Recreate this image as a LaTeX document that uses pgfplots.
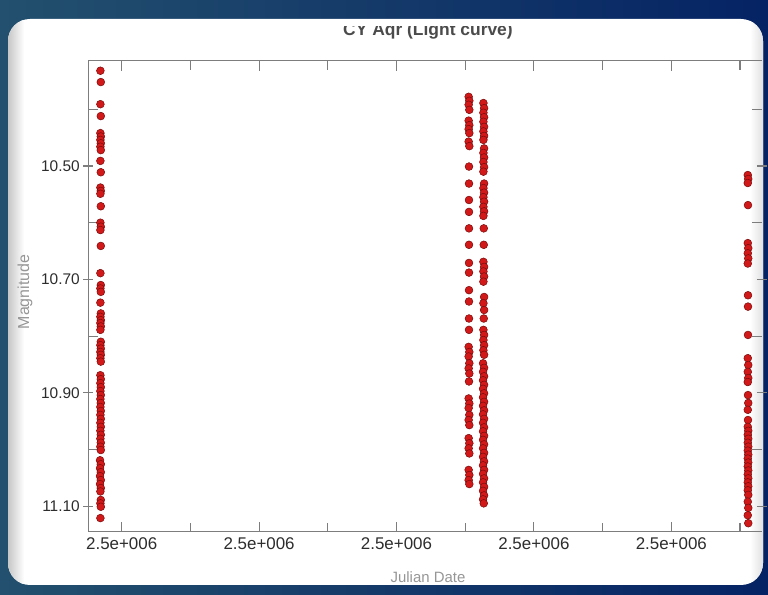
\documentclass[border=0pt]{standalone}
\usepackage{pgfplots}
\pgfplotsset{compat=1.18}
\usepackage{fontspec}
\setmainfont{Liberation Sans}
\definecolor{bgL}{RGB}{35,80,110}
\definecolor{bgR}{RGB}{5,35,100}
\definecolor{axgray}{RGB}{125,125,125}
\definecolor{lblgray}{RGB}{150,150,150}
\definecolor{tickgray}{RGB}{45,45,45}
\definecolor{titlegray}{RGB}{75,75,75}
\definecolor{dotfill}{RGB}{210,25,25}
\definecolor{dotdraw}{RGB}{120,10,10}
\begin{document}
\begin{tikzpicture}
\useasboundingbox (0,0) rectangle (768bp,595bp);
\shade[left color=bgL, right color=bgR] (0,0) rectangle (768bp,595bp);
\fill[white, rounded corners=22bp] (8bp,10bp) rectangle (763bp,576bp);
\begin{scope}
\clip[rounded corners=22bp] (8bp,10bp) rectangle (763bp,576bp);
\shade[left color=black!22, right color=white] (8bp,10bp) rectangle (24bp,576bp);
\shade[left color=white, right color=black!12] (750bp,10bp) rectangle (763bp,576bp);
\end{scope}
\begin{scope}
\clip (0,0) rectangle (768bp,568bp);
\node[anchor=base, font=\bfseries\fontsize{17.5}{20}\selectfont, text=titlegray] at (428bp,559bp) {CY Aqr (Light curve)};
\end{scope}
\node[anchor=base, font=\fontsize{15}{18}\selectfont, text=lblgray] at (428bp,13bp) {Julian Date};
\node[rotate=90, font=\fontsize{16}{18}\selectfont, text=lblgray] at (25bp,303bp) {Magnitude};
\begin{axis}[name=ax, at={(88.3bp,63.3bp)}, anchor=south west, scale only axis,
  width=673.7bp, height=471bp,
  xmin=-48.6, xmax=932, ymin=10.3143, ymax=11.145, y dir=reverse,
  axis line style={draw=none},
  xtick={0,200,400,600,800},
  xticklabels={2.5e+006,2.5e+006,2.5e+006,2.5e+006,2.5e+006},
  minor xtick={100,300,500,700,900},
  xtick align=inside,
  major tick length=10bp, minor tick length=9bp,
  ytick={10.5,10.7,10.9,11.1},
  yticklabels={10.50,10.70,10.90,11.10},
  ytick align=center,
  extra y ticks={10.4,10.6,10.8,11.0},
  extra y tick labels={},
  extra y tick style={ytick align=inside},
  tick style={axgray, line width=1.1bp},
  xticklabel style={font=\fontsize{17}{20}\selectfont, text=tickgray, yshift=-2bp},
  yticklabel style={font=\fontsize{15.5}{18}\selectfont, text=tickgray},
]
\addplot[only marks, mark=*, mark size=3.9bp, mark options={fill=dotfill, draw=dotdraw, line width=0.5bp}] table {
x y
-31 10.332
-30.4 10.352
-31 10.391
-30.4 10.412
-31 10.442
-30.4 10.448
-31 10.454
-30.4 10.460
-31 10.466
-30.4 10.472
-31 10.491
-30.4 10.511
-31 10.538
-30.4 10.544
-31 10.549
-30.4 10.571
-31 10.600
-30.4 10.607
-31 10.613
-30.4 10.641
-31 10.689
-30.4 10.710
-31 10.716
-30.4 10.722
-31 10.741
-30.4 10.760
-31 10.766
-30.4 10.772
-31 10.777
-30.4 10.783
-31 10.789
-30.4 10.810
-31 10.816
-30.4 10.822
-31 10.828
-30.4 10.833
-31 10.839
-30.4 10.845
-31 10.869
-30.4 10.876
-31 10.883
-30.4 10.890
-31 10.897
-30.4 10.904
-31 10.911
-30.4 10.918
-31 10.925
-30.4 10.932
-31 10.939
-30.4 10.946
-31 10.953
-30.4 10.960
-31 10.967
-30.4 10.974
-31 10.981
-30.4 10.988
-31 10.995
-30.4 11.001
-31.5 11.019
-30.4 11.026
-31.5 11.033
-30.4 11.040
-31.5 11.047
-30.4 11.054
-31.5 11.061
-30.4 11.068
-31 11.074
-30.4 11.089
-31 11.095
-30.4 11.101
-31 11.121
};
\addplot[only marks, mark=*, mark size=3.9bp, mark options={fill=dotfill, draw=dotdraw, line width=0.5bp}] table {
x y
505 10.378
506 10.385
505 10.392
506 10.401
505 10.420
506 10.428
505 10.435
506 10.442
505 10.457
506 10.465
505.5 10.501
505.5 10.531
505.5 10.560
505.5 10.581
505.5 10.610
505.5 10.639
505.5 10.671
505.5 10.688
505.5 10.719
505.5 10.739
505.5 10.769
505.5 10.789
505 10.819
506 10.828
505 10.836
506 10.848
505 10.857
506 10.866
505.5 10.880
505 10.910
506 10.919
505 10.927
506 10.939
505 10.948
506 10.957
505 10.980
506 10.989
505 10.998
506 11.007
505 11.036
506 11.045
505 11.054
506 11.061
};
\addplot[only marks, mark=*, mark size=3.9bp, mark options={fill=dotfill, draw=dotdraw, line width=0.5bp}] table {
x y
526.5 10.389
527.5 10.398
526.5 10.406
527.5 10.414
526.5 10.422
527.5 10.431
526.5 10.439
527.5 10.447
526.5 10.454
527.5 10.469
526.5 10.477
527.5 10.485
526.5 10.493
527.5 10.502
526.5 10.510
527.5 10.531
526.5 10.539
527.5 10.547
526.5 10.555
527.5 10.563
526.5 10.572
527.5 10.580
526.5 10.588
527 10.610
527 10.639
526.5 10.669
527.5 10.678
526.5 10.686
527.5 10.695
526.5 10.704
527.5 10.731
526.5 10.742
527.5 10.754
527 10.769
526.5 10.789
527.5 10.798
526.5 10.807
527.5 10.816
526.5 10.825
527.5 10.833
526 10.848
527.5 10.856
526 10.863
527.5 10.871
526 10.878
527.5 10.886
526 10.893
527.5 10.901
526 10.908
527.5 10.916
526 10.923
527.5 10.931
526 10.938
527.5 10.946
526 10.953
527.5 10.961
526 10.968
527.5 10.976
526 10.983
527.5 10.991
526 10.998
527.5 11.006
526 11.013
527.5 11.021
526 11.028
527.5 11.036
526 11.043
527.5 11.051
526 11.058
527.5 11.066
526 11.073
527.5 11.081
526 11.088
527 11.095
};
\addplot[only marks, mark=*, mark size=3.9bp, mark options={fill=dotfill, draw=dotdraw, line width=0.5bp}] table {
x y
911.3 10.516
912 10.523
911.3 10.530
911.6 10.569
911.3 10.636
912 10.645
911.3 10.654
912 10.663
911.3 10.672
911.6 10.728
911.6 10.748
911.6 10.798
911.3 10.839
912 10.851
911.3 10.863
912 10.874
911.3 10.881
911.6 10.904
912 10.918
911.3 10.930
911.6 10.948
911.3 10.960
912 10.967
911.3 10.974
912 10.981
911.3 10.988
912 10.995
911.3 11.002
912 11.009
911.3 11.016
912 11.023
911.3 11.030
912 11.037
911.3 11.044
912 11.051
911.3 11.058
912 11.065
911.3 11.072
912 11.080
911.3 11.092
912 11.103
911.3 11.116
912 11.130
};
\end{axis}
\draw[axgray, line width=1.2bp] (ax.north east) -- (ax.north west) -- (ax.south west) -- (ax.south east);
\end{tikzpicture}
\end{document}
